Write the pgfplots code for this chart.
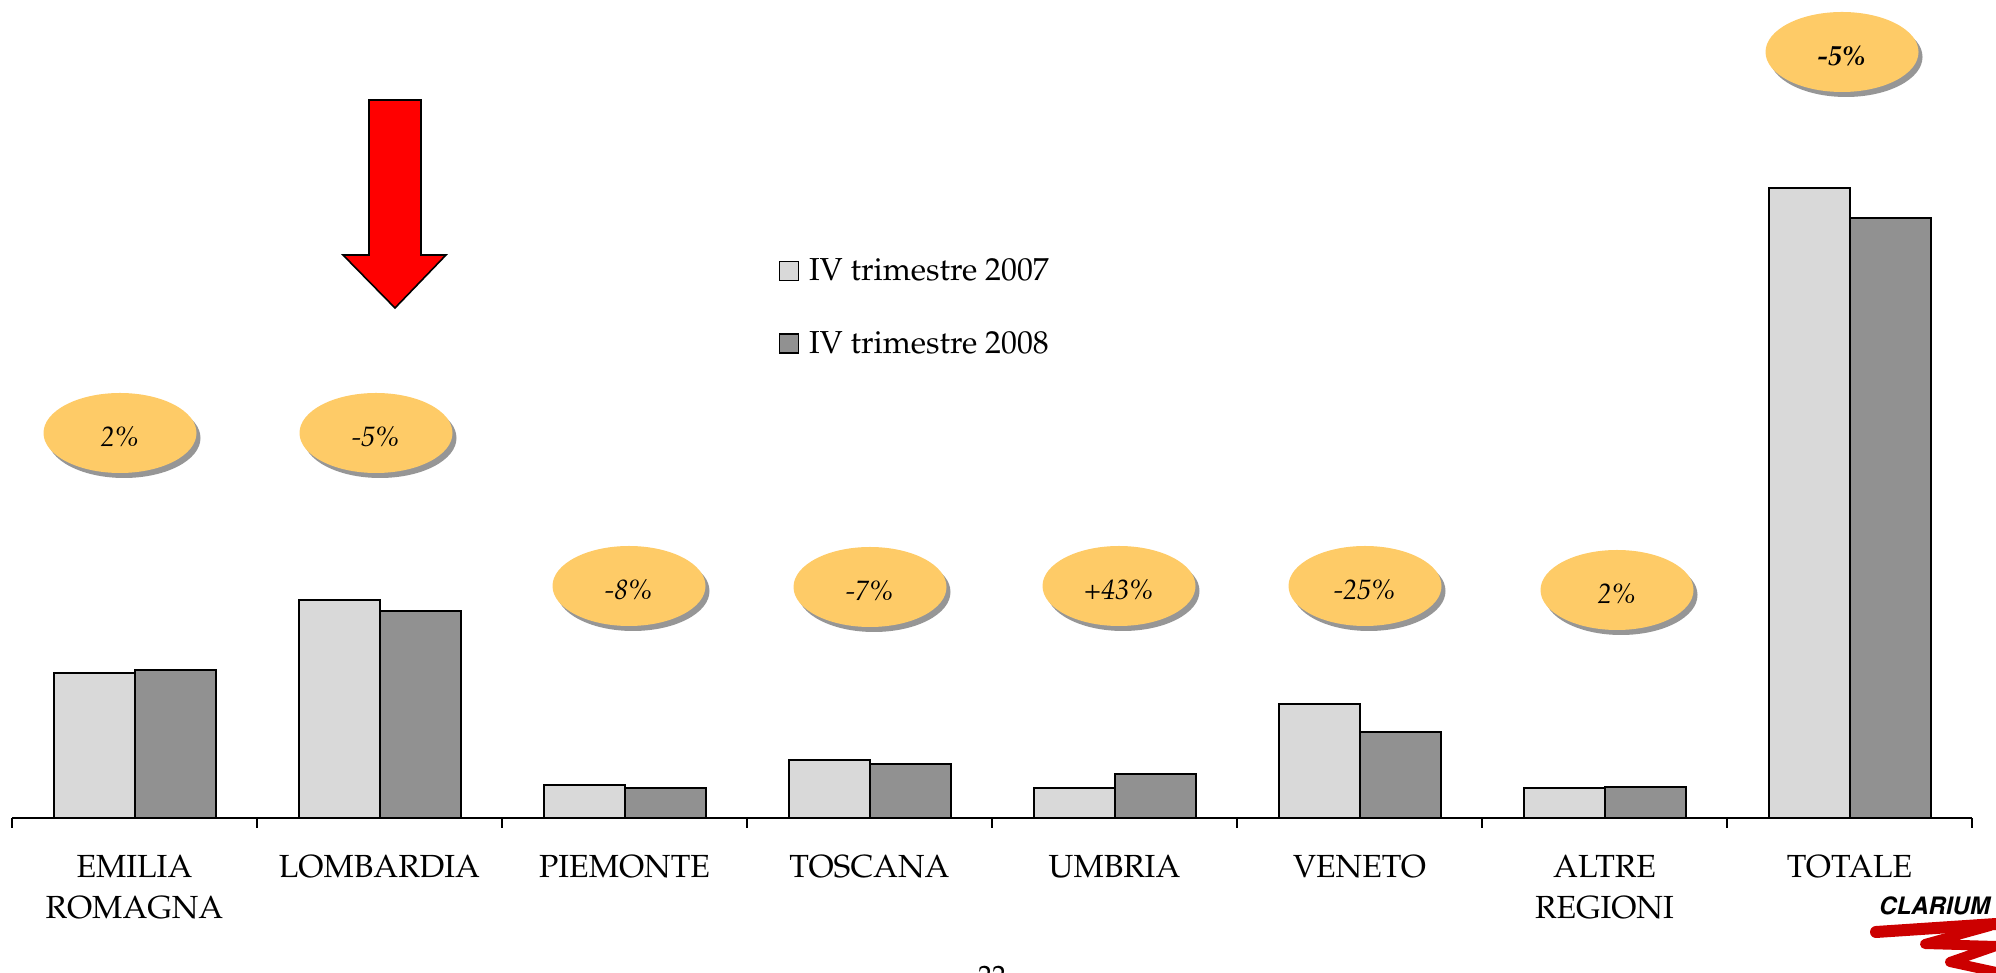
\documentclass[border=0pt]{standalone}
\usepackage[T1]{fontenc}
\usepackage{mathpazo}
\usepackage{pgfplots}
\usepackage{pgfplotstable}
\pgfplotsset{compat=1.18}
\definecolor{barlight}{RGB}{217,217,217}
\definecolor{bardark}{RGB}{145,145,145}
\definecolor{ovalfill}{RGB}{254,203,103}
\definecolor{ovalshadow}{RGB}{150,150,150}
\definecolor{arrowred}{RGB}{255,0,0}
\definecolor{clariumred}{RGB}{204,0,0}
\pgfplotstableread{
x    y07 y08
0.5  145 148
1.5  218 207
2.5  33  30
3.5  58  54
4.5  30  44
5.5  114 86
6.5  30  31
7.5  630 600
}\datatable
\begin{document}
\begin{tikzpicture}
\path[use as bounding box] (0,0) rectangle (998pt,486.5pt);
\begin{axis}[
  at={(6pt,77.5pt)}, anchor=south west,
  x=122.5pt, y=0.5pt,
  xmin=0, xmax=8, ymin=0, ymax=818,
  axis x line*=bottom, axis y line=none,
  axis line style={black, line width=1pt},
  ybar, bar width=40.5pt,
  xtick={0.5,1.5,2.5,3.5,4.5,5.5,6.5,7.5},
  xticklabels={{EMILIA\\ROMAGNA},LOMBARDIA,PIEMONTE,TOSCANA,UMBRIA,VENETO,{ALTRE\\REGIONI},TOTALE},
  minor xtick={0,1,...,8},
  major tick length=0pt,
  minor tick length=5pt,
  tick align=outside,
  minor tick style={black, line width=1pt},
  xticklabel style={align=center, font=\fontsize{16}{20.5}\selectfont, inner sep=0pt, anchor=north, yshift=-18.5pt},
  clip=false,
  legend style={at={(axis cs:3.127,560)}, anchor=north west, draw=none, fill=none, inner sep=0pt,
    font=\fontsize{15.9}{18}\selectfont, row sep=23.8pt, column sep=5pt, nodes={inner sep=0pt}},
  legend cell align=left,
]
\addplot[fill=barlight, draw=black, line width=1pt, bar shift=-20.25pt,
  legend image code/.code={\draw[fill=barlight,draw=black,line width=0.8pt] (0pt,-4.75pt) rectangle (9.5pt,4.75pt);}]
  table[x=x,y=y07]{\datatable};
\addlegendentry{IV trimestre 2007}
\addplot[fill=bardark, draw=black, line width=1pt, bar shift=20.25pt,
  legend image code/.code={\draw[fill=bardark,draw=black,line width=0.8pt] (0pt,-4.75pt) rectangle (9.5pt,4.75pt);}]
  table[x=x,y=y08]{\datatable};
\addlegendentry{IV trimestre 2008}
\end{axis}
\begin{scope}[x=0.5pt, y=-0.5pt, yshift=486.5pt]
  % ovals
  \foreach \cx/\cy/\t in {120/433/{2\%}, 376/433/{-5\%}, 629/586/{-8\%}, 870/587/{-7\%}, 1119/586/{+43\%}, 1365/586/{-25\%}, 1617/590/{2\%}}{
    \fill[ovalshadow] (\cx+4,\cy+5) ellipse [x radius=38.25pt, y radius=20pt];
    \fill[ovalfill] (\cx,\cy) ellipse [x radius=38.25pt, y radius=20pt];
    \node[font=\fontsize{14}{16}\selectfont\itshape, anchor=base, inner sep=0pt] at (\cx,\cy+14) {\t};
  }
  \fill[ovalshadow] (1846,57) ellipse [x radius=38.25pt, y radius=20pt];
  \fill[ovalfill] (1842,52) ellipse [x radius=38.25pt, y radius=20pt];
  \node[font=\fontsize{14}{16}\selectfont\bfseries\itshape, anchor=base, inner sep=0pt] at (1842,66) {-5\%};
  % arrow
  \draw[fill=arrowred, line width=0.8pt, line join=miter] (369,100) -- (421,100) -- (421,255) -- (446,255) -- (395,308) -- (343,255) -- (369,255) -- cycle;
  % page number
  \node[font=\fontsize{14}{16}\selectfont, anchor=north, inner sep=0pt] at (992,966) {22};
  % logo
  \node[font=\fontfamily{phv}\fontsize{12}{14}\selectfont\bfseries\itshape, anchor=base west, inner sep=0pt] at (1878,915) {CLARIUM};
  \draw[clariumred, line width=6pt, line cap=round, line join=round] (1876,932) -- (1996,924);
  \draw[clariumred, line width=5pt, line cap=round, line join=round] (1990,926) -- (1925,944) -- (1996,946) -- (1950,962) -- (1996,972);
\end{scope}
\end{tikzpicture}
\end{document}
